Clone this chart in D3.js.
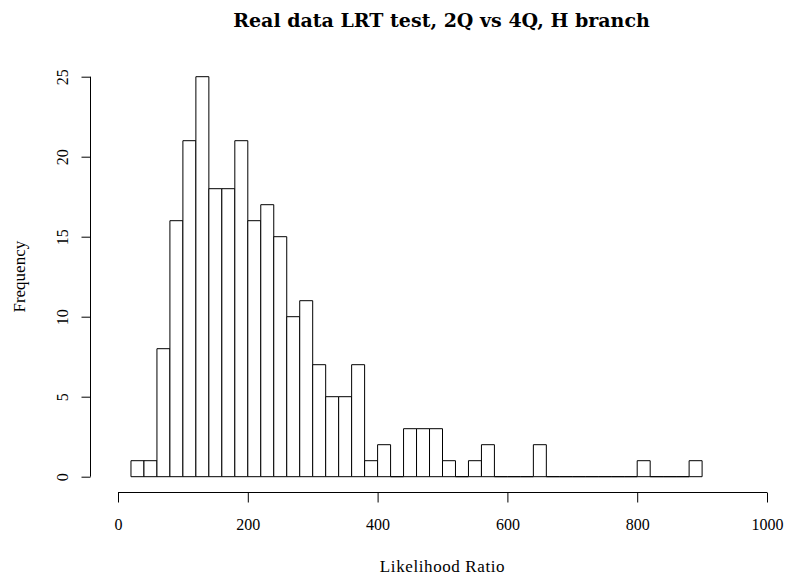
<!DOCTYPE html>
<html>
<head>
<meta charset="utf-8">
<script src="https://cdn.jsdelivr.net/npm/d3@7"></script>
<style>
  html, body { margin: 0; padding: 0; background: #fff; }
  svg { display: block; }
</style>
</head>
<body>
<svg id="chart" width="785" height="578"></svg>
<script>
// ---- Data ----
const breaks = [20, 40, 60, 80, 100, 120, 140, 160, 180, 200, 220, 240, 260, 280, 300,
  320, 340, 360, 380, 400, 420, 440, 460, 480, 500, 520, 540, 560, 580, 600, 620, 640,
  660, 680, 700, 720, 740, 760, 780, 800, 820, 840, 860, 880, 900];
const counts = [1, 1, 8, 16, 21, 25, 18, 18, 21, 16, 17, 15, 10, 11, 7, 5, 5, 7, 1, 2,
  0, 3, 3, 3, 1, 0, 1, 2, 0, 0, 0, 2, 0, 0, 0, 0, 0, 0, 0, 1, 0, 0, 0, 1];
const xTicks = [0, 200, 400, 600, 800, 1000];
const yTicks = [0, 5, 10, 15, 20, 25];
const title = "Real data LRT test, 2Q vs 4Q, H branch";
const xLabel = "Likelihood Ratio";
const yLabel = "Frequency";

const serif = "'Liberation Serif', 'DejaVu Serif', serif";
const bins = counts.map((c, i) => ({ x0: breaks[i], x1: breaks[i + 1], count: c }));

const svg = d3.select("#chart");
const x = d3.scaleLinear().domain([0, 1000]).range([118, 767]);
const y = d3.scaleLinear().domain([0, 25]).range([476.7, 76.7]);

// Bars (paths so that empty bins still show as a flat line, as in R)
svg.append("g")
  .selectAll("path")
  .data(bins)
  .join("path")
  .attr("d", d => `M${x(d.x0)},${y(0)}V${y(d.count)}H${x(d.x1)}V${y(0)}Z`)
  .attr("fill", "#fff")
  .attr("stroke", "#000")
  .attr("stroke-width", 1);

// X axis
const xAxisY = 492.5;
const xAxis = d3.axisBottom(x).tickValues(xTicks).tickSize(10).tickFormat(d3.format("d"));
const gx = svg.append("g").attr("transform", `translate(0,${xAxisY})`).call(xAxis);
gx.select(".domain").attr("d", `M${x(0)},0H${x(1000)}`).attr("stroke", "#000");
gx.selectAll(".tick line").attr("stroke", "#000");
gx.selectAll(".tick text")
  .style("font-family", serif)
  .style("font-size", "16px")
  .attr("fill", "#000")
  .attr("y", 37).attr("dy", null);

// Y axis
const yAxisX = 90.5;
const yAxis = d3.axisLeft(y).tickValues(yTicks).tickSize(9).tickFormat(d3.format("d"));
const gy = svg.append("g").attr("transform", `translate(${yAxisX},0)`).call(yAxis);
gy.select(".domain").attr("d", `M0,${y(0)}V${y(25)}`).attr("stroke", "#000");
gy.selectAll(".tick line").attr("stroke", "#000");
gy.selectAll(".tick text")
  .style("font-family", serif)
  .style("font-size", "16px")
  .attr("fill", "#000")
  .attr("x", null)
  .attr("text-anchor", "middle")
  .attr("transform", "translate(-28.5,0) rotate(-90)")
  .attr("dy", "0.35em");

// Title
svg.append("text")
  .attr("x", 441.5)
  .attr("y", 27)
  .attr("text-anchor", "middle")
  .style("font-family", "'DejaVu Serif', serif")
  .style("font-weight", "bold")
  .style("font-size", "19px")
  .text(title);

// X label
svg.append("text")
  .attr("x", (x(0) + x(1000)) / 2)
  .attr("y", 572)
  .attr("text-anchor", "middle")
  .style("font-family", serif)
  .style("font-size", "17px")
  .style("letter-spacing", "0.6px")
  .text(xLabel);

// Y label
svg.append("text")
  .attr("transform", `translate(25,${(y(0) + y(25)) / 2}) rotate(-90)`)
  .attr("text-anchor", "middle")
  .style("font-family", serif)
  .style("font-size", "17px")
  .text(yLabel);
</script>
</body>
</html>
